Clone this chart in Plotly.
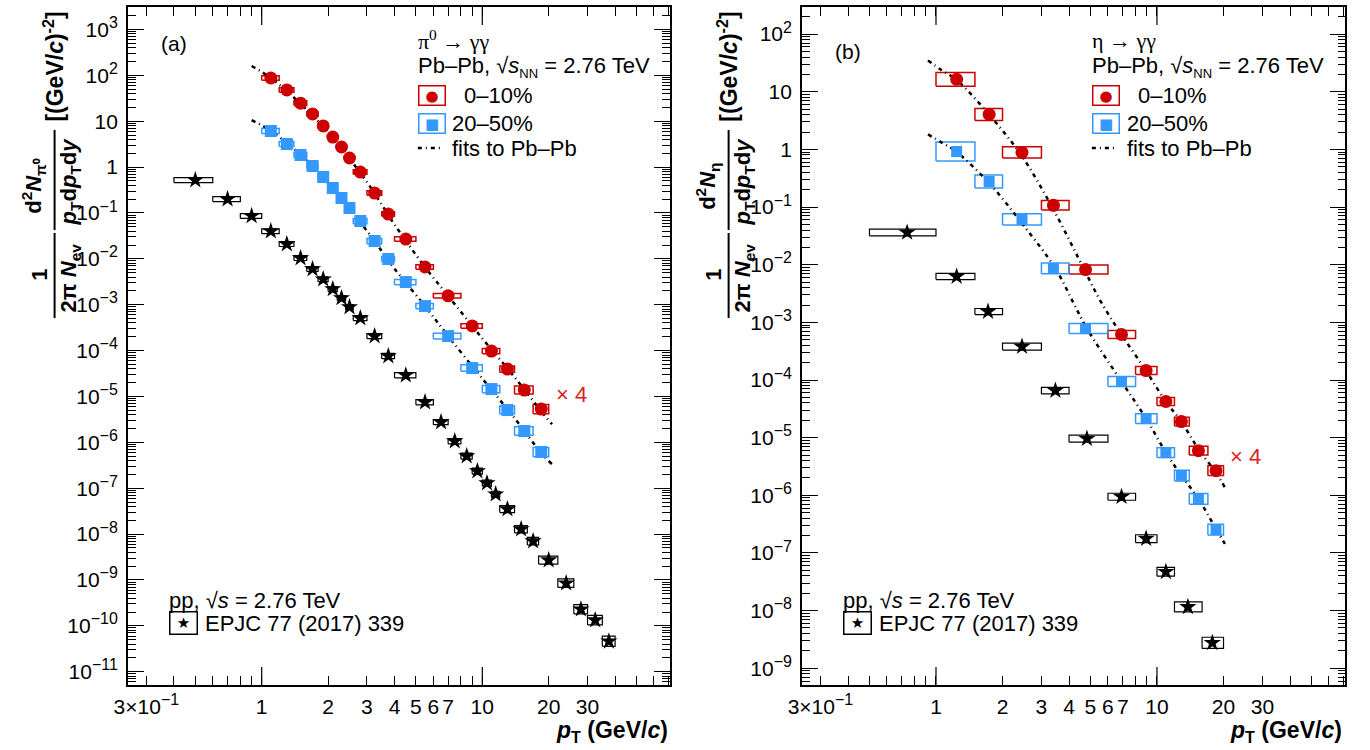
import plotly.graph_objects as go

W, H = 1370, 750
RED = "#cc0000"
BLUE = "#3399ff"
FONT = "Liberation Sans, Arial, sans-serif"

# ---------------- (a) pi0 -> gamma gamma ----------------
# pp reference (EPJC 77 (2017) 339)
pi0_pp_pt = [0.5, 0.7, 0.9, 1.1, 1.3, 1.5, 1.7, 1.9, 2.1, 2.3, 2.5, 2.8, 3.25, 3.75,
             4.5, 5.5, 6.5, 7.5, 8.5, 9.5, 10.5, 11.5, 13, 15, 17, 20, 24, 28, 32.5, 37.5]
pi0_pp_edges = [0.4, 0.6, 0.8, 1.0, 1.2, 1.4, 1.6, 1.8, 2.0, 2.2, 2.4, 2.6, 3.0, 3.5, 4.0,
                5, 6, 7, 8, 9, 10, 11, 12, 14, 16, 18, 22, 26, 30, 35, 40]
pi0_pp_y = [0.52, 0.20, 0.086, 0.040, 0.021, 0.0104, 0.0060, 0.0036, 0.0022, 0.0014,
            8.9e-4, 5.1e-4, 2.07e-4, 7.6e-5, 2.9e-5, 7.5e-6, 2.76e-6, 1.06e-6, 5.0e-7, 2.36e-7,
            1.29e-7, 7.4e-8, 3.5e-8, 1.28e-8, 7.0e-9, 2.7e-9, 8.5e-10, 2.3e-10, 1.33e-10, 4.6e-11]
pi0_pp_sys = [0.13, 0.13, 0.13, 0.13, 0.13, 0.13, 0.13, 0.13, 0.13, 0.13, 0.13, 0.13,
              0.14, 0.14, 0.14, 0.14, 0.14, 0.14, 0.16, 0.16, 0.16, 0.16,
              0.19, 0.20, 0.21, 0.22, 0.24, 0.26, 0.27, 0.29]

# Pb-Pb, 0-10% is drawn scaled by 4
pi0_pbpb_pt = [1.1, 1.3, 1.5, 1.7, 1.9, 2.1, 2.3, 2.5, 2.8, 3.25, 3.75, 4.5, 5.5, 7.0,
               9.0, 11.0, 13.0, 15.5, 18.5]
pi0_pbpb_edges = [1.0, 1.2, 1.4, 1.6, 1.8, 2.0, 2.2, 2.4, 2.6, 3.0, 3.5, 4.0, 5.0, 6.0,
                  8.0, 10, 12, 14, 17, 20]
pi0_010_y = [21.9, 12.0, 6.2, 3.6, 1.97, 1.13, 0.685, 0.395, 0.195, 0.068, 0.0237, 0.00675,
             0.00166, 3.9e-4, 8.6e-5, 2.44e-5, 9.9e-6, 3.45e-6, 1.33e-6]
pi0_010_sys = [0.12, 0.12, 0.12, 0.12, 0.12, 0.12, 0.12, 0.12, 0.12, 0.12, 0.12, 0.12,
               0.12, 0.12, 0.12, 0.14, 0.17, 0.22, 0.26]
pi0_2050_y = [6.12, 3.19, 1.83, 1.06, 0.608, 0.350, 0.212, 0.128, 0.0667, 0.0244, 0.00991,
              0.00312, 9.35e-4, 2.07e-4, 4.16e-5, 1.45e-5, 5.05e-6, 1.76e-6, 6.12e-7]
pi0_2050_sys = [0.14, 0.14, 0.14, 0.14, 0.14, 0.14, 0.14, 0.14, 0.14, 0.14, 0.14, 0.14,
                0.14, 0.16, 0.18, 0.20, 0.22, 0.24, 0.26]

pi0_fit_pt = [0.9, 1.1, 1.5, 2.0, 3.0, 4.0, 5.5, 7.0, 10, 14, 18.8, 20.7]
pi0_fit_010 = [40, 21.8, 6.0, 1.43, 0.118, 0.014, 1.65e-3, 3.9e-4, 4.6e-5, 6.6e-6,
               1.08e-6, 6.2e-7]
pi0_fit_2050 = [10.6, 6.1, 1.85, 0.44, 0.0407, 0.0061, 9.3e-4, 2.07e-4, 2.45e-5, 3.38e-6,
                5.3e-7, 3.36e-7]

# ---------------- (b) eta -> gamma gamma ----------------
eta_pp_pt = [0.74, 1.24, 1.72, 2.45, 3.47, 4.82, 6.91, 8.93, 10.97, 13.8, 17.8]
eta_pp_edges = [0.5, 1.0, 1.5, 2.0, 3.0, 4.0, 6.0, 8.0, 10, 12, 16, 20]
eta_pp_y = [0.0362, 0.00624, 0.00154, 3.80e-4, 6.55e-5, 9.6e-6, 9.45e-7, 1.77e-7,
            4.72e-8, 1.16e-8, 2.76e-9]
eta_pp_sys = [0.14, 0.13, 0.13, 0.15, 0.14, 0.15, 0.15, 0.17, 0.19, 0.22, 0.25]

eta_pbpb_pt = [1.24, 1.74, 2.45, 3.4, 4.75, 6.91, 8.93, 10.97, 12.9, 15.4, 18.5]
eta_pbpb_edges = [1.0, 1.5, 2.0, 3.0, 4.0, 6.0, 8.0, 10, 12, 14, 17, 20]
eta_010_y = [4.1, 1.01, 0.222, 0.0268, 2.06e-3, 1.54e-4, 3.65e-5, 1.06e-5, 4.75e-6,
             1.49e-6, 6.7e-7]
eta_010_sys = [0.32, 0.27, 0.25, 0.21, 0.20, 0.17, 0.17, 0.17, 0.19, 0.19, 0.21]
eta_2050_y = [0.923, 0.278, 0.061, 0.0086, 7.8e-4, 9.4e-5, 2.14e-5, 5.5e-6, 2.19e-6,
              8.7e-7, 2.53e-7]
eta_2050_sys = [0.46, 0.30, 0.25, 0.24, 0.22, 0.22, 0.22, 0.22, 0.24, 0.24, 0.24]

eta_fit_pt_010 = [0.92, 1.06, 1.24, 1.74, 2.45, 3.4, 4.72, 5.56, 6.91, 8.93, 10.97, 12.9,
                  15.4, 18.5, 20.3]
eta_fit_010 = [8.75, 5.9, 4.0, 1.0, 0.19, 0.0225, 1.95e-3, 5.8e-4, 1.53e-4, 3.6e-5,
               1.05e-5, 4.75e-6, 1.58e-6, 6.2e-7, 3.4e-7]
eta_fit_pt_2050 = [0.92, 1.06, 1.24, 1.74, 2.45, 3.47, 4.18, 4.82, 6.91, 8.93, 10.97, 12.9,
                   15.4, 18.5, 20.3]
eta_fit_2050 = [1.82, 1.32, 0.90, 0.26, 0.052, 0.0086, 2.2e-3, 7.8e-4, 9.4e-5, 2.14e-5,
                5.5e-6, 2.2e-6, 8.7e-7, 2.6e-7, 1.44e-7]

SCALE_010 = 4

SUP = "<sup><span style='font-size:16px'>%s</span></sup>"
x_ticks = [0.3, 1, 2, 3, 4, 5, 6, 7, 10, 20, 30]
x_ticktext = ["3\u00d710" + SUP % "\u22121", "1", "2", "3", "4", "5", "6", "7",
              "10", "20", "30"]
x_minor = [0.4, 0.5, 0.6, 0.7, 0.8, 0.9, 8, 9, 40, 50, 60, 70]


def px(x):
    return x / W


def py(y):
    return 1 - y / H


def box_xy(edges, y, sys, scale=1):
    bx, by = [], []
    for i in range(len(y)):
        lo, hi = edges[i], edges[i + 1]
        top = y[i] * scale * (1 + sys[i])
        bot = y[i] * scale / (1 + sys[i])
        bx += [lo, hi, hi, lo, lo, None]
        by += [bot, bot, top, top, bot, None]
    return bx, by


def dec_label(k):
    if k == 0:
        return "1"
    if k == 1:
        return "10"
    return "10" + SUP % (str(k) if k > 0 else "\u2212%d" % -k)


fig = go.Figure()


def add_panel(xa, ya, pp, pb010, pb2050, fit010, fit2050, msize):
    # systematic boxes
    for (edges, y, sys, scale, col, lw) in [
        (pp[1], pp[2], pp[3], 1, "black", 1.2),
        (pb010[1], pb010[2], pb010[3], SCALE_010, RED, 1.5),
        (pb2050[1], pb2050[2], pb2050[3], 1, BLUE, 1.5),
    ]:
        bx, by = box_xy(edges, y, sys, scale)
        fig.add_trace(go.Scatter(x=bx, y=by, mode="lines", xaxis=xa, yaxis=ya,
                                 line=dict(color=col, width=lw), showlegend=False,
                                 hoverinfo="skip"))
    # fits
    for fx, fy, scale in [(fit010[0], fit010[1], SCALE_010), (fit2050[0], fit2050[1], 1)]:
        fig.add_trace(go.Scatter(x=fx, y=[v * scale for v in fy], mode="lines",
                                 xaxis=xa, yaxis=ya, line_shape="spline",
                                 line=dict(color="black", width=2.5, dash="4px,4px,1px,4px"),
                                 showlegend=False, hoverinfo="skip"))
    # points
    fig.add_trace(go.Scatter(x=pp[0], y=pp[2], mode="markers", xaxis=xa, yaxis=ya,
                             marker=dict(symbol="star", size=msize[0], color="black"),
                             showlegend=False))
    fig.add_trace(go.Scatter(x=pb2050[0], y=pb2050[2], mode="markers", xaxis=xa, yaxis=ya,
                             marker=dict(symbol="square", size=msize[2], color=BLUE),
                             showlegend=False))
    fig.add_trace(go.Scatter(x=pb010[0], y=[v * SCALE_010 for v in pb010[2]], mode="markers",
                             xaxis=xa, yaxis=ya,
                             marker=dict(symbol="circle", size=msize[1], color=RED),
                             showlegend=False))


add_panel("x", "y",
          (pi0_pp_pt, pi0_pp_edges, pi0_pp_y, pi0_pp_sys),
          (pi0_pbpb_pt, pi0_pbpb_edges, pi0_010_y, pi0_010_sys),
          (pi0_pbpb_pt, pi0_pbpb_edges, pi0_2050_y, pi0_2050_sys),
          (pi0_fit_pt, pi0_fit_010), (pi0_fit_pt, pi0_fit_2050), (13, 13, 12))
add_panel("x2", "y2",
          (eta_pp_pt, eta_pp_edges, eta_pp_y, eta_pp_sys),
          (eta_pbpb_pt, eta_pbpb_edges, eta_010_y, eta_010_sys),
          (eta_pbpb_pt, eta_pbpb_edges, eta_2050_y, eta_2050_sys),
          (eta_fit_pt_010, eta_fit_010), (eta_fit_pt_2050, eta_fit_2050), (13, 13, 11))

tickfont = dict(family=FONT, size=21, color="black")


def xaxis_cfg(domain):
    return dict(type="log", range=[-0.607, 1.852], domain=domain, showgrid=False,
                zeroline=False, showline=True, linecolor="black", linewidth=1.5,
                mirror="ticks", ticks="inside", ticklen=9, tickwidth=1.2, tickcolor="black",
                tickmode="array", tickvals=x_ticks, ticktext=x_ticktext, tickfont=tickfont,
                ticklabelstandoff=2,
                minor=dict(ticks="inside", ticklen=9, tickwidth=1.2, tickcolor="black",
                           tickmode="array", tickvals=x_minor, showgrid=False))


def yaxis_cfg(domain, kmin, kmax, rng, anchor):
    vals = [10.0 ** k for k in range(kmin, kmax + 1)]
    minor = [m * 10.0 ** k for k in range(kmin - 1, kmax + 1) for m in range(2, 10)]
    return dict(type="log", range=rng, domain=domain, anchor=anchor, showgrid=False,
                zeroline=False, showline=True, linecolor="black", linewidth=1.5,
                mirror="ticks", ticks="inside", ticklen=16, tickwidth=1.2, tickcolor="black",
                tickmode="array", tickvals=vals,
                ticktext=[dec_label(k) for k in range(kmin, kmax + 1)], tickfont=tickfont,
                ticklabelstandoff=4,
                minor=dict(ticks="inside", ticklen=8, tickwidth=1.0, tickcolor="black",
                           tickmode="array", tickvals=minor, showgrid=False))


ydom = [py(685), py(7)]
fig.update_layout(
    width=W, height=H, margin=dict(l=0, r=0, t=0, b=0),
    paper_bgcolor="white", plot_bgcolor="white",
    font=dict(family=FONT, size=21, color="black"),
    xaxis=dict(xaxis_cfg([px(115), px(663)]), anchor="y"),
    yaxis=yaxis_cfg(ydom, -11, 3, [-11.29, 3.49], "x"),
    xaxis2=dict(xaxis_cfg([px(796), px(1345)]), anchor="y2"),
    yaxis2=yaxis_cfg(ydom, -9, 2, [-9.29, 2.47], "x2"),
)

shapes = []
# long ticks at full decades on the p_T axes
for xr, yr in [("x", "y domain"), ("x2", "y2 domain")]:
    for v in [1, 10]:
        for y0, y1 in [(0, 18 / 678), (1 - 18 / 678, 1)]:
            shapes.append(dict(type="line", xref=xr, yref=yr, x0=v, x1=v, y0=y0, y1=y1,
                               line=dict(color="black", width=1.2)))

ann = []


def text(x, y, s, size=22, color="black", xanchor="left", family=FONT, angle=0):
    ann.append(dict(x=px(x), y=py(y), xref="paper", yref="paper", text=s, showarrow=False,
                    xanchor=xanchor, yanchor="middle", textangle=angle,
                    font=dict(family=family, size=size, color=color)))


def legend_box(x, y, sym, color, size, w, h):
    ann.append(dict(x=px(x), y=py(y), xref="paper", yref="paper", text=sym, showarrow=False,
                    xanchor="center", yanchor="middle", width=w, height=h, borderpad=0,
                    bordercolor=color, borderwidth=1.5,
                    font=dict(family="DejaVu Sans", size=size, color=color)))


for off, label, meson, sub, times4 in [
    (0, "(a)", "\u03c0<sup>0</sup> \u2192 \u03b3\u03b3", "\u03c0\u2070", (549, 395)),
    (681, "(b)", "\u03b7 \u2192 \u03b3\u03b3", "\u03b7", (1230, 456)),
]:
    text(146 + off, 43 if off == 0 else 51, label, size=21)
    text(406 + off, 40, meson, size=22, family="Liberation Serif, Times New Roman, serif")
    text(406 + off, 67,
         "Pb\u2013Pb, \u221a<i>s</i><sub><span style='font-size:13px'>NN</span></sub> = 2.76 TeV",
         size=22)
    legend_box(422 + off, 95, "\u25cf", RED, 15, 25, 18)
    text(453 + off, 95, "0\u201310%", size=22)
    legend_box(422 + off, 123, "\u25a0", BLUE, 15, 25, 18)
    text(441 + off, 123, "20\u201350%", size=22)
    shapes.append(dict(type="line", xref="paper", yref="paper", x0=px(408 + off),
                       x1=px(434 + off), y0=py(148), y1=py(148),
                       line=dict(color="black", width=2.5, dash="4px,4px,1px,4px")))
    text(441 + off, 148, "fits to Pb\u2013Pb", size=22)
    text(times4[0] - 3, times4[1], "\u00d7 4", size=22, color="#dd2222")
    text(155 + off, 600, "pp, \u221a<i>s</i> = 2.76 TeV", size=22)
    legend_box(171 + off, 623, "\u2605", "black", 15, 26, 21)
    text(191 + off, 623, "EPJC 77 (2017) 339", size=22)
    # x axis title
    text(663 + off, 731, "<b><i>p</i><sub>T</sub> (GeV/<i>c</i>)</b>", size=23,
         xanchor="right")
    # y axis title built from rotated pieces
    t = off
    text(40 + t, 67, "<b>[(GeV/<i>c</i>)<sup>-2</sup>]</b>", size=23, xanchor="center",
         angle=-90)
    text(19 + t, 186, "<b>d<sup>2</sup><i>N</i><sub>%s</sub></b>" % sub, size=22,
         xanchor="center", angle=-90)
    text(57 + t, 181, "<b><i>p</i><sub>T</sub>d<i>p</i><sub>T</sub>d<i>y</i></b>", size=22,
         xanchor="center", angle=-90)
    text(25 + t, 275, "<b>1</b>", size=22, xanchor="center", angle=-90)
    text(57 + t, 278, "<b>2\u03c0 <i>N</i><sub>ev</sub></b>", size=22, xanchor="center",
         angle=-90)
    for y0, y1 in [(130, 230), (233, 318)]:
        shapes.append(dict(type="line", xref="paper", yref="paper", x0=px(41 + t),
                           x1=px(41 + t), y0=py(y0), y1=py(y1),
                           line=dict(color="black", width=2)))

fig.update_layout(annotations=ann, shapes=shapes)
fig.write_html("out.html", config={"displayModeBar": False},
               post_script="document.body.style.margin = '0px';")
